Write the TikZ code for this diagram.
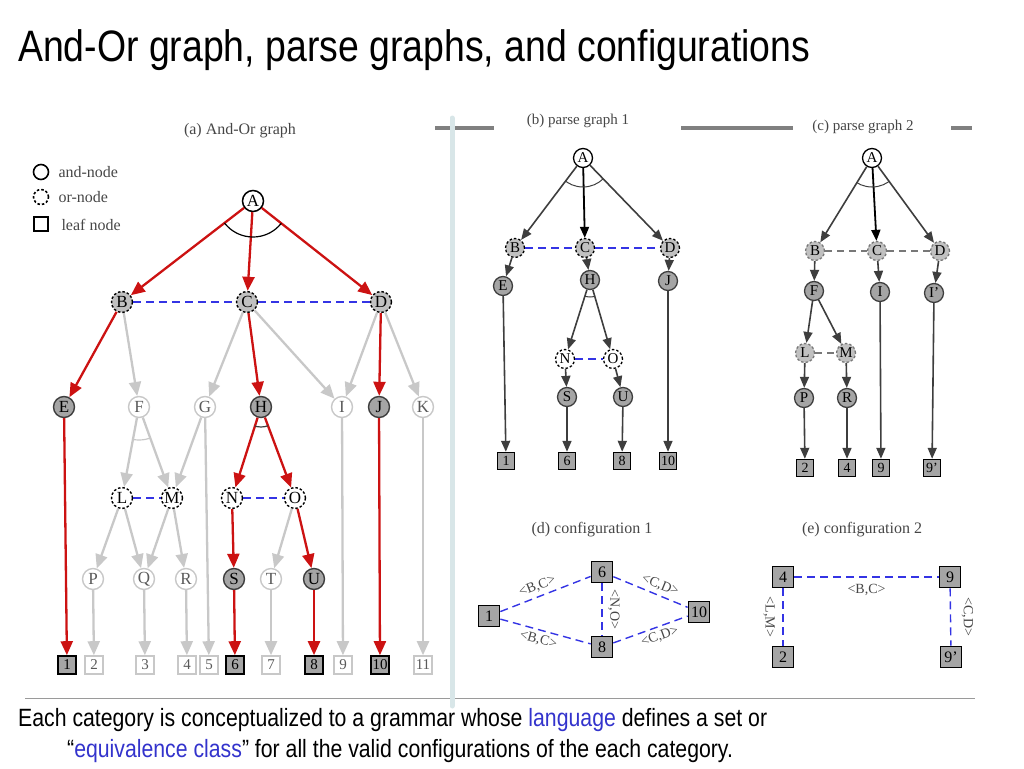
\documentclass[tikz,border=0pt]{standalone}
\usepackage{fontspec}
\setmainfont{Liberation Serif}
\newfontfamily\slidefont{Liberation Sans}[FakeStretch=0.85]
\definecolor{edgered}{RGB}{204,18,18}
\definecolor{offgray}{RGB}{200,200,200}
\definecolor{offtext}{RGB}{90,90,90}
\definecolor{pairblue}{RGB}{52,52,228}
\definecolor{nodegray}{RGB}{165,165,165}
\definecolor{orgray}{RGB}{192,192,192}
\definecolor{inkgray}{RGB}{62,62,62}
\definecolor{rulegray}{RGB}{128,128,128}
\definecolor{barblue}{RGB}{216,230,232}
\definecolor{linkblue}{RGB}{51,51,204}
\definecolor{captext}{RGB}{70,70,70}
\usetikzlibrary{arrows.meta}
\tikzset{
	andtop/.style={circle, draw=black, line width=1.5pt, fill=white, minimum size=21pt, inner sep=0pt, font=\fontsize{17}{17}\selectfont},
	orsel/.style={circle, draw=black, dashed, dash pattern=on 2.5pt off 2pt, line width=1.4pt, fill=orgray, minimum size=21pt, inner sep=0pt, font=\fontsize{17}{17}\selectfont},
	oroff/.style={orsel, fill=white},
	andsel/.style={circle, draw=inkgray, line width=1.4pt, fill=nodegray, minimum size=21pt, inner sep=0pt, font=\fontsize{17}{17}\selectfont},
	andoff/.style={circle, draw=offgray, line width=1.4pt, fill=white, text=offtext, minimum size=21pt, inner sep=0pt, font=\fontsize{17}{17}\selectfont},
	leafsel/.style={rectangle, draw=black, line width=1.6pt, fill=nodegray, minimum size=18pt, inner sep=0pt, font=\fontsize{15}{15}\selectfont},
	leafoff/.style={leafsel, draw=offgray, fill=white, text=offtext},
	redarrow/.style={-{Triangle[length=14pt,width=12pt]}, line width=2.3pt, draw=edgered},
	grayarrow/.style={-{Triangle[length=14pt,width=12pt]}, line width=2.3pt, draw=offgray},
	pairdash/.style={dash pattern=on 8pt off 5pt, line width=1.4pt, draw=pairblue},
	% smaller nodes of the parse graphs
	sandtop/.style={andtop, minimum size=19pt, line width=1.3pt, font=\fontsize{15}{15}\selectfont},
	sorsel/.style={orsel, minimum size=19pt, line width=1.3pt, font=\fontsize{15}{15}\selectfont},
	soroff/.style={sorsel, fill=white},
	sorpale/.style={sorsel, draw=inkgray!70},
	sandsel/.style={andsel, minimum size=19pt, line width=1.3pt, font=\fontsize{15}{15}\selectfont},
	sleaf/.style={leafsel, minimum size=17pt, line width=1.4pt, font=\fontsize{14}{14}\selectfont},
	cfgleaf/.style={leafsel, minimum size=21pt, line width=1.7pt, font=\fontsize{16}{16}\selectfont},
	darkarrow/.style={-{Triangle[length=11pt,width=9pt]}, line width=1.6pt, draw=inkgray},
	blackarrow/.style={darkarrow, draw=black, line width=1.8pt},
	graydash/.style={dash pattern=on 7pt off 5pt, line width=1.3pt, draw=inkgray!70},
	pairlabel/.style={font=\fontsize{14}{14}\selectfont, text=captext, inner sep=0.5pt},
	caption/.style={font=\fontsize{16}{16}\selectfont, text=captext},
	legend/.style={font=\fontsize{16}{16}\selectfont, text=captext, anchor=west},
}

\begin{document}
\begin{tikzpicture}[x=1pt, y=-1pt]
	\useasboundingbox (0,0) rectangle (1024,768);
	% slide title and note
	\node[anchor=base west, inner sep=0pt, font=\slidefont\fontsize{44}{44}\selectfont] (title) at (18,61) {And-Or graph, parse graphs, and configurations};
	\node[anchor=base west, inner sep=0pt, font=\slidefont\fontsize{25}{25}\selectfont] (note1) at (18,726) {Each category is conceptualized to a grammar whose {\color{linkblue}language} defines a set or};
	\node[anchor=base west, inner sep=0pt, font=\slidefont\fontsize{25}{25}\selectfont] (note2) at (67,757) {“{\color{linkblue}equivalence class}” for all the valid configurations of the each category.};
	\draw[rulegray!80, line width=1pt] (25,698) -- (975,698);
	% header rules
	\draw[rulegray, line width=4pt] (435,128) -- (494,128);
	\draw[rulegray, line width=4pt] (681,128) -- (793,128);
	\draw[rulegray, line width=4pt] (951,128) -- (972,128);
	\draw[barblue, line width=5pt, line cap=round] (452,118) -- (452,706);

	% (a) And-Or graph
	\node[caption] (capa) at (240,131) {(a) And-Or graph};
	\node[circle, draw=black, line width=1.6pt, minimum size=15pt, inner sep=0pt] (keyand) at (41,172) {};
	\node[circle, draw=black, dashed, dash pattern=on 2.5pt off 2pt, line width=1.6pt, minimum size=15pt, inner sep=0pt] (keyor) at (41,197) {};
	\node[rectangle, draw=black, line width=1.6pt, minimum size=14pt, inner sep=0pt] (keyleaf) at (41,224) {};
	\node[legend] at (55,172) {and-node};
	\node[legend] at (55,197) {or-node};
	\node[legend] at (58,225) {leaf node};

	\node[andtop] (aA) at (253,201) {A};
	\node[orsel] (aB) at (122,302) {B};
	\node[orsel] (aC) at (247,302) {C};
	\node[orsel] (aD) at (381,302) {D};
	\node[andsel] (aE) at (64,407) {E};
	\node[andoff] (aF) at (139,407) {F};
	\node[andoff] (aG) at (205,407) {G};
	\node[andsel] (aH) at (261,407) {H};
	\node[andoff] (aI) at (342,407) {I};
	\node[andsel] (aJ) at (379,407) {J};
	\node[andoff] (aK) at (423,407) {K};
	\node[oroff] (aL) at (122,498) {L};
	\node[oroff] (aM) at (172,498) {M};
	\node[oroff] (aN) at (232,498) {N};
	\node[oroff] (aO) at (295,498) {O};
	\node[andoff] (aP) at (93,579) {P};
	\node[andoff] (aQ) at (144,579) {Q};
	\node[andoff] (aR) at (186,579) {R};
	\node[andsel] (aS) at (234,579) {S};
	\node[andoff] (aT) at (271,579) {T};
	\node[andsel] (aU) at (314,579) {U};
	\foreach \n/\x/\s in {1/67/leafsel, 2/94/leafoff, 3/145/leafoff, 4/187/leafoff, 5/209/leafoff, 6/235/leafsel, 7/271/leafoff, 8/314/leafsel, 9/343/leafoff, 10/380/leafsel, 11/423/leafoff}
		\node[\s] (a\n) at (\x,665) {\n};

	\foreach \u/\v in {aB/aF, aC/aG, aC/aI, aD/aI, aD/aK, aF/aL, aF/aM, aG/aM, aG/a5, aL/aP, aL/aQ, aM/aQ, aM/aR, aP/a2, aQ/a3, aR/a4, aO/aT, aT/a7, aI/a9, aK/a11}
		\draw[grayarrow] (\u) -- (\v);
	\foreach \u/\v in {aA/aB, aA/aC, aA/aD, aB/aE, aE/a1, aC/aH, aH/aN, aH/aO, aN/aS, aS/a6, aO/aU, aU/a8, aD/aJ, aJ/a10}
		\draw[redarrow] (\u) -- (\v);
	\draw[pairdash] (aB) -- (aC) -- (aD);
	\draw[pairdash] (aL) -- (aM);
	\draw[pairdash] (aN) -- (aO);
	\begin{scope}
		\clip (aA.center) -- (aB.center) -- (aD.center) -- cycle;
		\draw[line width=1.2pt] (aA.center) circle[radius=36];
	\end{scope}
	\begin{scope}
		\clip (aH.center) -- (aN.center) -- (aO.center) -- cycle;
		\draw[line width=1.2pt, inkgray] (aH.center) circle[radius=20];
	\end{scope}
	\begin{scope}
		\clip (aF.center) -- (aL.center) -- (aM.center) -- cycle;
		\draw[line width=1.2pt, offgray] (aF.center) circle[radius=33];
	\end{scope}

	% (b) parse graph 1
	\node[caption, font=\fontsize{15}{15}\selectfont] (capb) at (578,121) {(b) parse graph 1};
	\node[sandtop] (bA) at (583,158) {A};
	\node[sorsel] (bB) at (515,248) {B};
	\node[sorsel] (bC) at (585,248) {C};
	\node[sorsel] (bD) at (670,248) {D};
	\node[sandsel] (bE) at (503,286) {E};
	\node[sandsel] (bH) at (590,280) {H};
	\node[sandsel] (bJ) at (668,281) {J};
	\node[soroff] (bN) at (565,359) {N};
	\node[soroff] (bO) at (613,359) {O};
	\node[sandsel] (bS) at (567,397) {S};
	\node[sandsel] (bU) at (623,397) {U};
	\foreach \n/\x in {1/506, 6/567, 8/622, 10/668}
		\node[sleaf] (b\n) at (\x,461) {\n};
	\foreach \u/\v in {bA/bB, bA/bD, bB/bE, bC/bH, bD/bJ, bH/bN, bH/bO, bN/bS, bO/bU, bE/b1, bS/b6, bU/b8, bJ/b10}
		\draw[darkarrow] (\u) -- (\v);
	\draw[blackarrow] (bA) -- (bC);
	\draw[pairdash, line width=1.3pt] (bB) -- (bC) -- (bD);
	\draw[pairdash, line width=1.3pt] (bN) -- (bO);
	\begin{scope}
		\clip (bA.center) -- (bB.center) -- (bD.center) -- cycle;
		\draw[line width=1pt, inkgray] (bA.center) circle[radius=29];
	\end{scope}
	\begin{scope}
		\clip (bH.center) -- (bN.center) -- (bO.center) -- cycle;
		\draw[line width=1pt, inkgray] (bH.center) circle[radius=17];
	\end{scope}

	% (c) parse graph 2
	\node[caption, font=\fontsize{15}{15}\selectfont] (capc) at (863,127) {(c) parse graph 2};
	\node[sandtop] (cA) at (872,158) {A};
	\node[sorpale] (cB) at (815,251) {B};
	\node[sorpale] (cC) at (877,251) {C};
	\node[sorpale] (cD) at (940,251) {D};
	\node[sandsel] (cF) at (814,291) {F};
	\node[sandsel] (cI) at (880,292) {I};
	\node[sandsel] (cIp) at (934,293) {I'};
	\node[sorpale] (cL) at (805,353) {L};
	\node[sorpale] (cM) at (846,353) {M};
	\node[sandsel] (cP) at (804,398) {P};
	\node[sandsel] (cR) at (847,398) {R};
	\foreach \n/\t/\x in {2/2/805, 4/4/847, 9/9/881, 9p/9'/932}
		\node[sleaf] (c\n) at (\x,468) {\t};
	\foreach \u/\v in {cA/cB, cA/cD, cB/cF, cC/cI, cD/cIp, cF/cL, cF/cM, cL/cP, cM/cR, cP/c2, cR/c4, cI/c9, cIp/c9p}
		\draw[darkarrow] (\u) -- (\v);
	\draw[blackarrow] (cA) -- (cC);
	\draw[graydash] (cB) -- (cC) -- (cD);
	\draw[graydash] (cL) -- (cM);
	\begin{scope}
		\clip (cA.center) -- (cB.center) -- (cD.center) -- cycle;
		\draw[line width=1pt, inkgray] (cA.center) circle[radius=29];
	\end{scope}

	% (d) configuration 1
	\node[caption] (capd) at (592,530) {(d) configuration 1};
	\node[cfgleaf] (d1) at (489,616) {1};
	\node[cfgleaf] (d6) at (602,572) {6};
	\node[cfgleaf] (d8) at (602,647) {8};
	\node[cfgleaf] (d10) at (699,612) {10};
	\draw[pairdash] (d1) -- node[pairlabel, pos=0.45, sloped, above=3pt] {<B,C>} (d6);
	\draw[pairdash] (d1) -- node[pairlabel, pos=0.45, sloped, below=3pt] {<B,C>} (d8);
	\draw[pairdash] (d6) -- node[pairlabel, pos=0.58, sloped, above=3pt] {<C,D>} (d10);
	\draw[pairdash] (d8) -- node[pairlabel, pos=0.58, sloped, below=3pt] {<C,D>} (d10);
	\draw[pairdash] (d6) -- node[pairlabel, xshift=12pt, rotate=-90] {<N,O>} (d8);

	% (e) configuration 2
	\node[caption] (cape) at (862,530) {(e) configuration 2};
	\node[cfgleaf] (e4) at (783,577) {4};
	\node[cfgleaf] (e9) at (950,577) {9};
	\node[cfgleaf] (e2) at (783,657) {2};
	\node[cfgleaf] (e9p) at (951,657) {9'};
	\draw[pairdash] (e4) -- node[pairlabel, yshift=-13pt] {<B,C>} (e9);
	\draw[pairdash] (e4) -- node[pairlabel, xshift=-14pt, rotate=-90] {<L,M>} (e2);
	\draw[pairdash] (e9) -- node[pairlabel, xshift=17pt, rotate=-90] {<C,D>} (e9p);
\end{tikzpicture}
\end{document}
